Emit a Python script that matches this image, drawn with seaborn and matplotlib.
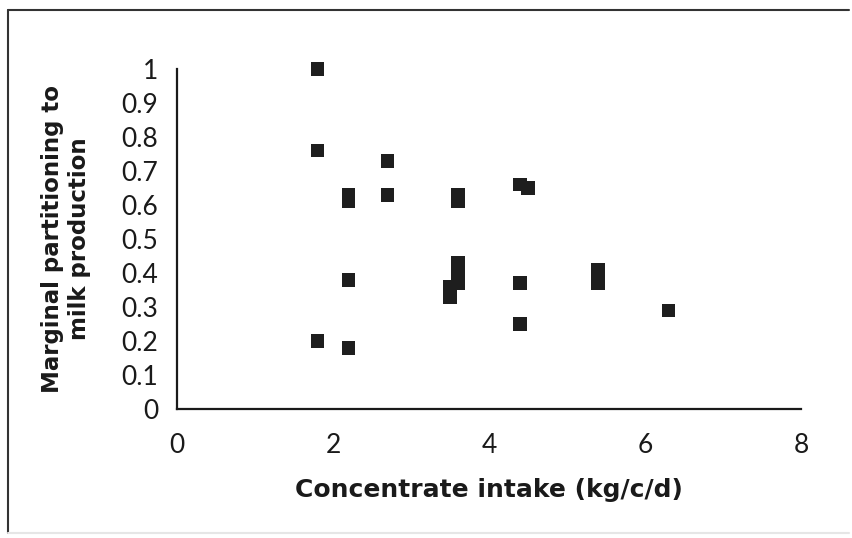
import matplotlib
matplotlib.use("Agg")
import matplotlib.pyplot as plt
import seaborn as sns
import pandas as pd
from matplotlib.lines import Line2D

# Data
intake = [1.8, 1.8, 1.8,
          2.2, 2.2, 2.2, 2.2,
          2.7, 2.7,
          3.5, 3.5,
          3.6, 3.6, 3.6, 3.6, 3.6,
          4.4, 4.5, 4.4, 4.4,
          5.4, 5.4,
          6.3]
partitioning = [1.00, 0.76, 0.20,
                0.63, 0.61, 0.38, 0.18,
                0.73, 0.63,
                0.36, 0.33,
                0.63, 0.61, 0.43, 0.40, 0.37,
                0.66, 0.65, 0.37, 0.25,
                0.41, 0.37,
                0.29]
x_ticks = [0, 2, 4, 6, 8]
y_ticks = [0, 0.1, 0.2, 0.3, 0.4, 0.5, 0.6, 0.7, 0.8, 0.9, 1]
y_tick_labels = ["0", "0.1", "0.2", "0.3", "0.4", "0.5", "0.6", "0.7", "0.8", "0.9", "1"]

df = pd.DataFrame({"intake": intake, "partitioning": partitioning})

sns.set_theme(style="white")
plt.rcParams["font.family"] = ["Lato", "DejaVu Sans"]

fig = plt.figure(figsize=(8.53, 5.38), dpi=100)
ax = fig.add_axes([177 / 853, 129 / 538, 624 / 853, 340 / 538])

sns.scatterplot(data=df, x="intake", y="partitioning", ax=ax,
                marker="s", s=95, color="#1e1e1e", edgecolor="none",
                linewidth=0, clip_on=False, zorder=3)

ax.set_xlim(0, 8)
ax.set_ylim(0, 1)
ax.set_xticks(x_ticks)
ax.set_xticklabels([str(t) for t in x_ticks])
ax.set_yticks(y_ticks)
ax.set_yticklabels(y_tick_labels)

for side in ["top", "right"]:
    ax.spines[side].set_visible(False)
for side in ["left", "bottom"]:
    ax.spines[side].set_color("#1a1a1a")
    ax.spines[side].set_linewidth(1.6)

ax.tick_params(axis="both", direction="inout", length=9, width=1.4,
               color="#1a1a1a", labelsize=19, labelcolor="#1a1a1a")
ax.tick_params(axis="x", pad=13)
ax.tick_params(axis="y", pad=9)

label_font = ["DejaVu Sans"]
ax.set_xlabel("Concentrate intake (kg/c/d)", fontsize=18, fontweight="bold",
              family=label_font, color="#1a1a1a", labelpad=14)
ax.set_ylabel("Marginal partitioning to\nmilk production", fontsize=16.5,
              fontweight="bold", family=label_font, color="#1a1a1a",
              labelpad=22, linespacing=1.2)

# Outer frame (left and top lines, faint bottom)
fig.add_artist(Line2D([8 / 853, 8 / 853], [1 - 10 / 538, 1 - 533 / 538],
                      transform=fig.transFigure, color="#333333", linewidth=1.5))
fig.add_artist(Line2D([8 / 853, 849 / 853], [1 - 10 / 538, 1 - 10 / 538],
                      transform=fig.transFigure, color="#333333", linewidth=1.5))
fig.add_artist(Line2D([8 / 853, 849 / 853], [1 - 533 / 538, 1 - 533 / 538],
                      transform=fig.transFigure, color="#e6e6e6", linewidth=1.5))

fig.savefig("out.png", dpi=100)
